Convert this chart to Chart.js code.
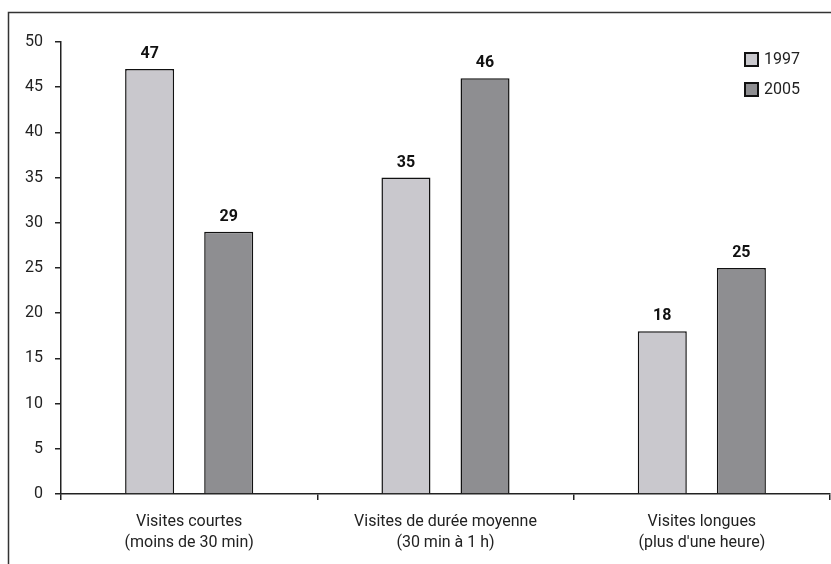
<!DOCTYPE html>
<html>
<head>
<meta charset="utf-8">
<script src="https://cdn.jsdelivr.net/npm/chart.js@4"></script>
<style>
  html, body { margin: 0; padding: 0; background: #fff; }
  canvas { display: block; }
</style>
</head>
<body>
<canvas id="chart" width="831" height="564"></canvas>
<script>
var categories = [
  ['Visites courtes', '(moins de 30 min)'],
  ['Visites de durée moyenne', '(30 min à 1 h)'],
  ['Visites longues', "(plus d'une heure)"]
];
var years = ['1997', '2005'];
var values1997 = [47, 35, 18];
var values2005 = [29, 46, 25];
var yTicks = [0, 5, 10, 15, 20, 25, 30, 35, 40, 45, 50];

var colors = ['#c9c8cd', '#8e8e91'];
var fontFam = 'Roboto, "DejaVu Sans", sans-serif';

// cadre + etiquettes de valeur + legende
var extras = {
  id: 'extras',
  afterDatasetsDraw: function(chart) {
    var ctx = chart.ctx;
    ctx.save();
    ctx.font = 'bold 16px ' + fontFam;
    ctx.fillStyle = '#111';
    ctx.textAlign = 'center';
    ctx.textBaseline = 'bottom';
    chart.data.datasets.forEach(function(ds, i) {
      chart.getDatasetMeta(i).data.forEach(function(bar, j) {
        ctx.fillText(ds.data[j], bar.x, bar.y - 7);
      });
    });
    ctx.restore();
  },
  afterDraw: function(chart) {
    var ctx = chart.ctx;
    ctx.save();
    // cadre
    ctx.strokeStyle = '#333';
    ctx.lineWidth = 1.5;
    ctx.beginPath();
    ctx.moveTo(8.5, 600);
    ctx.lineTo(8.5, 12.5);
    ctx.lineTo(840, 12.5);
    ctx.stroke();
    // legende
    ctx.font = '16px ' + fontFam;
    ctx.textAlign = 'left';
    ctx.textBaseline = 'middle';
    years.forEach(function(y, i) {
      var top = 53 + i * 30;
      ctx.fillStyle = colors[i];
      ctx.fillRect(745, top, 13, 13);
      ctx.strokeStyle = '#111';
      ctx.lineWidth = 2;
      ctx.strokeRect(745, top, 13, 13);
      ctx.fillStyle = '#222';
      ctx.fillText(y, 764, top + 7);
    });
    ctx.restore();
  }
};

new Chart(document.getElementById('chart'), {
  type: 'bar',
  data: {
    labels: categories,
    datasets: [
      { label: years[0], data: values1997, backgroundColor: colors[0], borderColor: '#111', borderWidth: 1.5 },
      { label: years[1], data: values2005, backgroundColor: colors[1], borderColor: '#111', borderWidth: 1.5 }
    ]
  },
  options: {
    responsive: false,
    animation: false,
    devicePixelRatio: 1,
    categoryPercentage: 0.617,
    barPercentage: 0.62,
    layout: { padding: { top: 42, right: 1, left: 0, bottom: 0 } },
    plugins: { legend: { display: false }, tooltip: { enabled: false } },
    scales: {
      x: {
        grid: { offset: true, drawOnChartArea: false, tickLength: 6, color: '#222', lineWidth: 1.5 },
        border: { color: '#222', width: 1.5 },
        ticks: { color: '#222', font: { size: 16, family: fontFam, lineHeight: 1.3 }, padding: 12, maxRotation: 0, autoSkip: false },
        afterFit: function(s) { s.height = 70; }
      },
      y: {
        min: 0, max: 50,
        afterBuildTicks: function(s) { s.ticks = yTicks.map(function(v) { return { value: v }; }); },
        grid: { drawOnChartArea: false, tickLength: 6, color: '#222', lineWidth: 1.5 },
        border: { color: '#222', width: 1.5 },
        ticks: { color: '#222', font: { size: 16, family: fontFam }, padding: 12 },
        afterFit: function(s) { s.width = 61; }
      }
    }
  },
  plugins: [extras]
});
</script>
</body>
</html>
